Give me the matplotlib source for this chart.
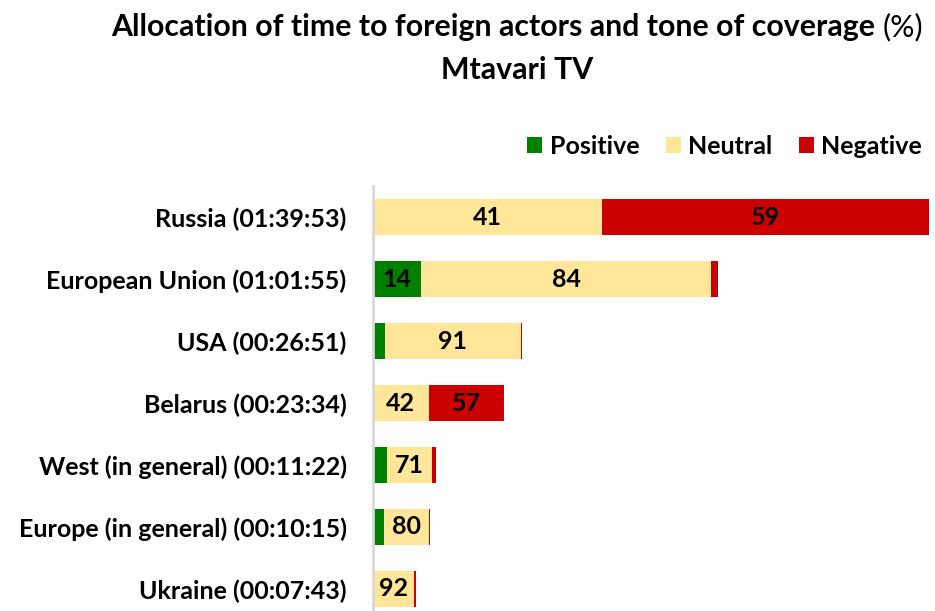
import matplotlib.pyplot as plt
import numpy as np

plt.rcParams['font.family'] = ['Lato', 'DejaVu Sans']

actors = ['Russia', 'European Union', 'USA', 'Belarus', 'West (in general)',
          'Europe (in general)', 'Ukraine']
durations = ['01:39:53', '01:01:55', '00:26:51', '00:23:34', '00:11:22',
             '00:10:15', '00:07:43']
positive = [0.2, 14, 8, 0, 22, 19, 1]
neutral = [41, 84, 91, 42, 71, 80, 92]
negative = [59, 2, 1, 57, 7, 1, 4]

colors = {'Positive': '#008000', 'Neutral': '#FFE699', 'Negative': '#CC0000'}


def to_sec(s):
    h, m, sec = (int(x) for x in s.split(':'))
    return h * 3600 + m * 60 + sec


secs = np.array([to_sec(d) for d in durations], dtype=float)
pcts = np.array([positive, neutral, negative], dtype=float)
widths = pcts / pcts.sum(axis=0) * secs  # segment length in seconds

fig = plt.figure(figsize=(9.35, 6.11), dpi=100)
ax = fig.add_axes([373 / 935, -9 / 611, 556 / 935, 434 / 611])

y = np.arange(len(actors))
left = np.zeros(len(actors))
for name, w, p in zip(colors, widths, pcts):
    ax.barh(y, w, left=left, height=0.58, color=colors[name], label=name)
    for i in range(len(actors)):
        if w[i] > 300:
            ax.text(left[i] + w[i] / 2, y[i], f'{p[i]:.0f}', ha='center', va='center',
                    fontsize=18, fontweight='bold', color='black')
    left += w

ax.set_ylim(len(actors) - 0.5, -0.5)
ax.set_xlim(0, secs.max())
ax.set_yticks(y)
ax.set_yticklabels([f'{a} ({d})' for a, d in zip(actors, durations)],
                   fontsize=18, fontweight='bold')
ax.tick_params(axis='y', length=0, pad=19)
ax.set_xticks([])
for s in ['top', 'right', 'bottom']:
    ax.spines[s].set_visible(False)
ax.spines['left'].set_color('#d9d9d9')
ax.spines['left'].set_linewidth(2)

# title: bold text followed by a regular "(%)", centred as one line
t1 = fig.text(0, 0.955, 'Allocation of time to foreign actors and tone of coverage ',
              ha='left', va='center', fontsize=21.8, fontweight='bold')
t2 = fig.text(0, 0.955, '(%)', ha='left', va='center', fontsize=21.8)
r = fig.canvas.get_renderer()
w1 = t1.get_window_extent(r).width / fig.bbox.width
w2 = t2.get_window_extent(r).width / fig.bbox.width
x0 = 0.5535 - (w1 + w2) / 2
t1.set_x(x0)
t2.set_x(x0 + w1)
fig.text(0.5535, 0.885, 'Mtavari TV', ha='center', va='center',
         fontsize=21.8, fontweight='bold')

fig.legend(loc='center right', bbox_to_anchor=(1.01, 0.760), ncol=3, frameon=False,
           prop={'size': 18, 'weight': 'bold'}, handlelength=0.6, handleheight=0.6,
           handletextpad=0.3, columnspacing=1.05)

fig.savefig('out.png', dpi=100)
